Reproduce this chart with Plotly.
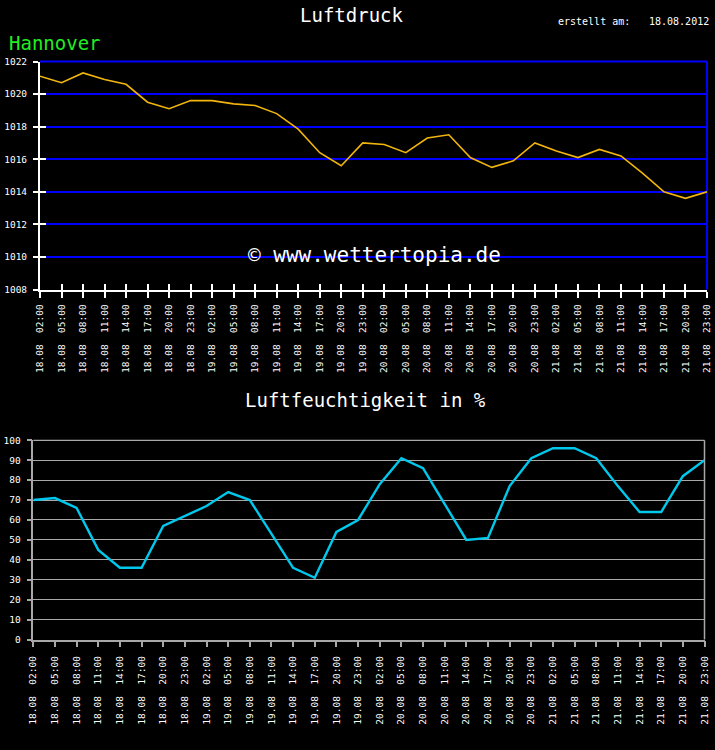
import plotly.graph_objects as go

times = ["02:00", "05:00", "08:00", "11:00", "14:00", "17:00", "20:00", "23:00"]
days = ["18.08", "19.08", "20.08", "21.08"]
tick_labels = [f"{d}\u00a0\u00a0{t}" for d in days for t in times]
idx = list(range(len(tick_labels)))

pressure = [1021.1, 1020.7, 1021.3, 1020.9, 1020.6, 1019.5, 1019.1, 1019.6,
            1019.6, 1019.4, 1019.3, 1018.8, 1017.85, 1016.4, 1015.6, 1017.0,
            1016.9, 1016.4, 1017.3, 1017.5, 1016.1, 1015.5, 1015.9, 1017.0,
            1016.5, 1016.1, 1016.6, 1016.2, 1015.15, 1014.0, 1013.6, 1014.0]

humidity = [70, 71, 66, 45, 36, 36, 57, 62, 67, 74, 70, 53, 36, 31, 54, 60,
            78, 91, 86, 68, 50, 51, 77, 91, 96, 96, 91, 77, 64, 64, 82, 90]

p_ticks = [1008, 1010, 1012, 1014, 1016, 1018, 1020, 1022]
h_ticks = [0, 10, 20, 30, 40, 50, 60, 70, 80, 90, 100]

FONT = "DejaVu Sans Mono"
W, H = 715, 750

def fx(px):
    return px / W

def fy(py):
    return 1 - py / H

top_x = [fx(40), fx(707)]
top_y = [fy(289.5), fy(61.5)]
bot_x = [fx(33.3), fx(704.5)]
bot_y = [fy(639.5), fy(440.3)]

fig = go.Figure()

fig.add_trace(go.Scatter(x=idx, y=pressure, mode="lines",
                         line=dict(color="#f2b50c", width=1.6),
                         xaxis="x", yaxis="y", showlegend=False, hoverinfo="skip"))
# invisible trace to carry overlay axes (inside ticks)
fig.add_trace(go.Scatter(x=idx, y=pressure, mode="lines", opacity=0,
                         xaxis="x3", yaxis="y3", showlegend=False, hoverinfo="skip"))
fig.add_trace(go.Scatter(x=idx, y=humidity, mode="lines",
                         line=dict(color="#00c8ec", width=2.4),
                         xaxis="x2", yaxis="y2", showlegend=False, hoverinfo="skip"))

tickfont = dict(family=FONT, size=9.5, color="white")

fig.update_layout(
    template="none",
    width=W, height=H, autosize=False,
    margin=dict(l=0, r=0, t=0, b=0, pad=0),
    paper_bgcolor="black", plot_bgcolor="black",
    xaxis=dict(domain=top_x, anchor="y", range=[0, 31], tickmode="array",
               tickvals=idx, ticktext=tick_labels, tickangle=-90, automargin=False,
               tickfont=tickfont, showgrid=False, zeroline=False,
               showline=True, linecolor="white", linewidth=2,
               ticks="outside", ticklen=6, tickwidth=2, tickcolor="white",
               ticklabelstandoff=3),
    yaxis=dict(domain=top_y, anchor="x", range=[1008, 1022], tickmode="array",
               tickvals=p_ticks, ticktext=[str(v) for v in p_ticks], automargin=False,
               tickfont=tickfont, showgrid=True, gridcolor="#0000ff", gridwidth=2,
               zeroline=False, showline=True, linecolor="white", linewidth=2,
               ticks="outside", ticklen=5, tickwidth=2, tickcolor="white",
               ticklabelstandoff=4),
    xaxis3=dict(domain=top_x, anchor="y3", overlaying="x", range=[0, 31],
                tickmode="array", tickvals=idx, showticklabels=False, automargin=False,
                showgrid=False, zeroline=False, showline=False,
                ticks="inside", ticklen=6, tickwidth=2, tickcolor="white"),
    yaxis3=dict(domain=top_y, anchor="x3", overlaying="y", range=[1008, 1022],
                tickmode="array", tickvals=p_ticks, showticklabels=False, automargin=False,
                showgrid=False, zeroline=False, showline=False,
                ticks="inside", ticklen=6, tickwidth=2, tickcolor="white"),
    xaxis2=dict(domain=bot_x, anchor="y2", range=[0, 31], tickmode="array",
                tickvals=idx, ticktext=tick_labels, tickangle=-90, automargin=False,
                tickfont=tickfont, showgrid=False, zeroline=False,
                showline=True, linecolor="#a8a8a8", linewidth=1.5,
                ticks="outside", ticklen=6, tickwidth=1.5, tickcolor="#a8a8a8",
                ticklabelstandoff=5),
    yaxis2=dict(domain=bot_y, anchor="x2", range=[0, 100], tickmode="array",
                tickvals=h_ticks, ticktext=[str(v) for v in h_ticks], automargin=False,
                tickfont=tickfont, showgrid=True, gridcolor="#a8a8a8", gridwidth=1.2,
                zeroline=False, showline=True, linecolor="#a8a8a8", linewidth=1.5,
                ticks="outside", ticklen=5, tickwidth=1.5, tickcolor="#a8a8a8",
                ticklabelstandoff=4),
    shapes=[
        dict(type="line", xref="x domain", yref="y domain", x0=1, x1=1, y0=0, y1=1,
             line=dict(color="#0000ff", width=2), layer="below"),
        dict(type="line", xref="x domain", yref="y domain", x0=0, x1=1, y0=1, y1=1,
             line=dict(color="#0000ff", width=2), layer="below"),
        dict(type="line", xref="x2 domain", yref="y2 domain", x0=1, x1=1, y0=0, y1=1,
             line=dict(color="#a8a8a8", width=1.5), layer="below"),
        dict(type="line", xref="x2 domain", yref="y2 domain", x0=0, x1=1, y0=1, y1=1,
             line=dict(color="#a8a8a8", width=1.2), layer="below"),
    ],
    annotations=[
        dict(text="Luftdruck", x=fx(352), y=fy(15), xref="paper", yref="paper",
             showarrow=False, font=dict(family=FONT, size=19, color="white"),
             xanchor="center", yanchor="middle"),
        dict(text="erstellt am:", x=fx(556), y=fy(22), xref="paper", yref="paper",
             showarrow=False, font=dict(family=FONT, size=10, color="white"),
             xanchor="left", yanchor="middle"),
        dict(text="18.08.2012", x=fx(711), y=fy(22), xref="paper", yref="paper",
             showarrow=False, font=dict(family=FONT, size=10, color="white"),
             xanchor="right", yanchor="middle"),
        dict(text="Hannover", x=fx(7), y=fy(43), xref="paper", yref="paper",
             showarrow=False, font=dict(family=FONT, size=19, color="#22ee22"),
             xanchor="left", yanchor="middle"),
        dict(text="© www.wettertopia.de", x=fx(374), y=fy(255), xref="paper", yref="paper",
             showarrow=False, font=dict(family=FONT, size=21, color="white"),
             xanchor="center", yanchor="middle"),
        dict(text="Luftfeuchtigkeit in %", x=fx(365), y=fy(400), xref="paper", yref="paper",
             showarrow=False, font=dict(family=FONT, size=19, color="white"),
             xanchor="center", yanchor="middle"),
    ],
)

fig.write_html("out.html")
